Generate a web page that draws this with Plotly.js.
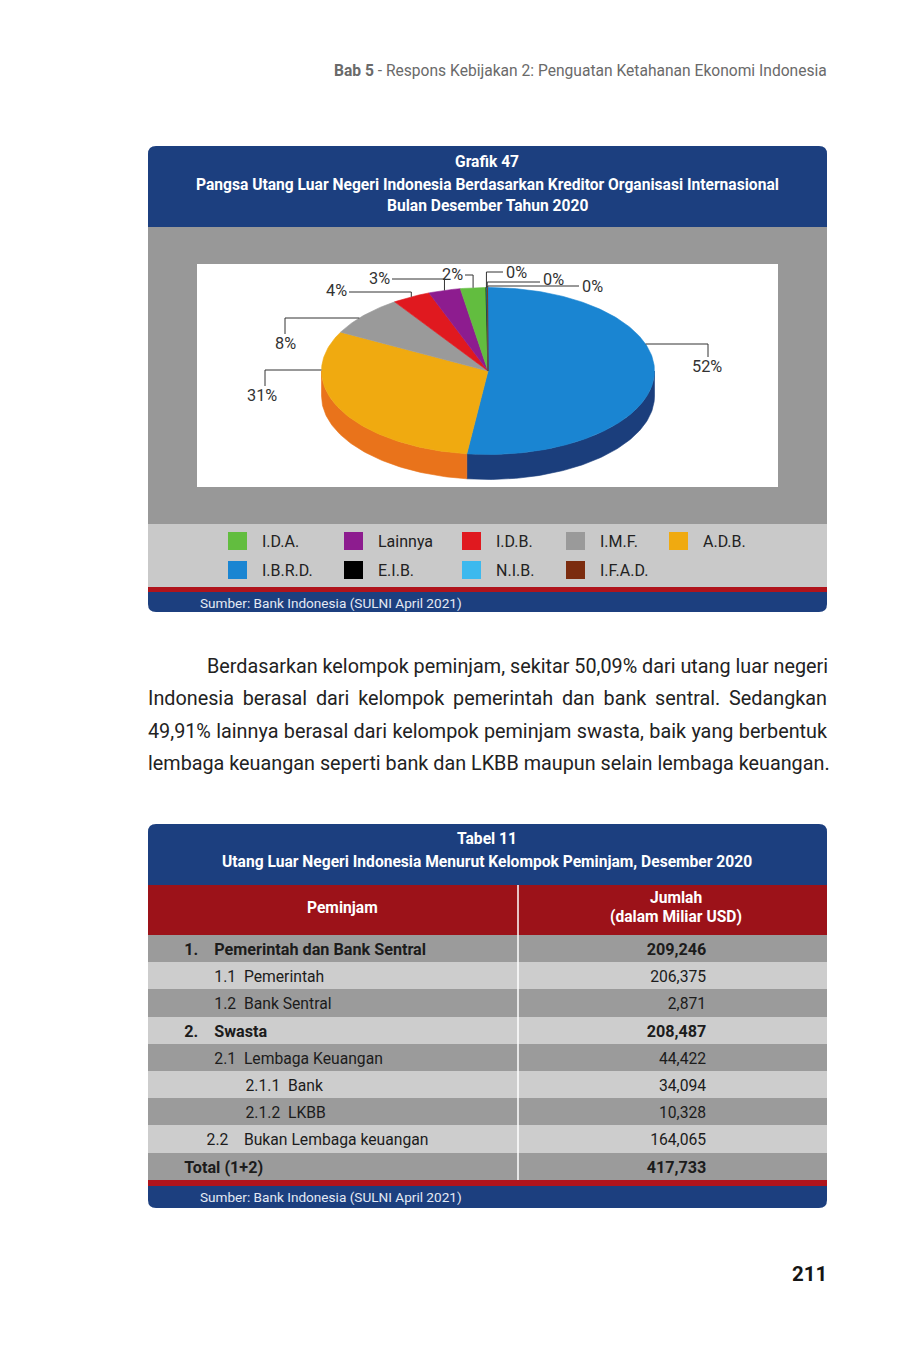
<!DOCTYPE html>
<html><head><meta charset="utf-8">
<script src="https://cdn.plot.ly/plotly-3.0.1.min.js"></script>
<style>
html,body{margin:0;padding:0;background:#fff;}
#page{position:relative;width:915px;height:1357px;overflow:hidden;font-family:Roboto,"Open Sans",sans-serif;}
#chart{position:absolute;left:0;top:0;width:915px;height:1357px;}
#para{position:absolute;left:148px;top:651px;width:679px;font-size:19.8px;color:#222;line-height:32.3px;}
#para div{text-align:justify;text-align-last:justify;white-space:nowrap;}
</style></head>
<body><div id="page"><div id="chart"></div>
<div id="para">
<div style="padding-left:59px">Berdasarkan kelompok peminjam, sekitar 50,09% dari utang luar negeri</div>
<div>Indonesia berasal dari kelompok pemerintah dan bank sentral. Sedangkan</div>
<div>49,91% lainnya berasal dari kelompok peminjam swasta, baik yang berbentuk</div>
<div>lembaga keuangan seperti bank dan LKBB maupun selain lembaga keuangan.</div>
</div></div>
<script>
// ---------- DATA ----------
const categories = ["I.D.A.","Lainnya","I.D.B.","I.M.F.","A.D.B.","I.B.R.D.","E.I.B.","N.I.B.","I.F.A.D."];
const shares     = [2.45, 3.1, 3.7, 7.8, 30.6, 51.9, 0.1, 0.05, 0.05];
const pieOrder   = ["I.B.R.D.","A.D.B.","I.M.F.","I.D.B.","Lainnya","I.D.A.","E.I.B.","N.I.B.","I.F.A.D."];

const tableHeader = ["Peminjam","Jumlah","(dalam Miliar USD)"];
const rowNums    = ["1.","1.1","1.2","2.","2.1","2.1.1","2.1.2","2.2","Total (1+2)"];
const rowNames   = ["Pemerintah dan Bank Sentral","Pemerintah","Bank Sentral","Swasta","Lembaga Keuangan","Bank","LKBB","Bukan Lembaga keuangan",""];
const amounts    = ["209,246","206,375","2,871","208,487","44,422","34,094","10,328","164,065","417,733"];
const boldRows   = [true,false,false,true,false,false,false,false,true];

// ---------- STYLE ----------
const FONT = 'Roboto, "Open Sans", sans-serif';
const topColors = {"I.D.A.":"#62bd3f","Lainnya":"#8d1c8f","I.D.B.":"#e0191f","I.M.F.":"#9a9a9a","A.D.B.":"#f0aa10",
  "I.B.R.D.":"#1a85d2","E.I.B.":"#000000","N.I.B.":"#3db9ee","I.F.A.D.":"#7b2c0f"};
const sideColors = {"I.D.A.":"#4a9a2e","Lainnya":"#6a136b","I.D.B.":"#a81217","I.M.F.":"#777777","A.D.B.":"#e9731b",
  "I.B.R.D.":"#1b3e7c","E.I.B.":"#000000","N.I.B.":"#2d8cb5","I.F.A.D.":"#5a200b"};
const BLUE = '#1c3f7f', RED = '#b0141c';

// pie geometry (page pixels)
const cx=488, cy=371, rx=166.5, ry=83.5, depth=25;
// label placement (layout only)
const labelLayout = {
  "I.B.R.D.":{mode:'h', ey:344, vx:708, lx:707, ly:366},
  "A.D.B.":  {mode:'h', ey:370, vx:265, lx:262, ly:395},
  "I.M.F.":  {mode:'h', ey:318, vx:285, lx:285, ly:343},
  "I.D.B.":  {mode:'v', ey:292, ex:349, lx:336, ly:290},
  "Lainnya": {mode:'v', ey:279, ex:392, lx:379, ly:278},
  "I.D.A.":  {mode:'v', ey:275, ex:465, lx:452, ly:274},
  "E.I.B.":  {mode:'v', ey:272, ex:503, lx:516, ly:272},
  "N.I.B.":  {mode:'v', ey:282, ex:540, lx:553, ly:279},
  "I.F.A.D.":{mode:'v', ey:286, ex:579, lx:592, ly:286}
};
const legendCols = [228,344,462,566,669], legendRows = [541,570];

// ---------- PIE ----------
const total = shares.reduce((a,b)=>a+b,0);
const val = c => shares[categories.indexOf(c)];
function P(a,dy){const r=a*Math.PI/180;return [cx+rx*Math.sin(r), cy-ry*Math.cos(r)+(dy||0)];}
function arc(a1,a2,dy){const n=Math.max(2,Math.ceil(a2-a1));const p=[];for(let k=0;k<=n;k++)p.push(P(a1+(a2-a1)*k/n,dy));return p;}
let acc=0;
const slices = pieOrder.map(c=>{const a1=acc/total*360;acc+=val(c);return {c,a1,a2:acc/total*360};});
const traces=[];
slices.forEach(s=>{
  const st=Math.max(s.a1,90), en=Math.min(s.a2,270);
  if(en>st){
    const pts=arc(st,en,0).concat(arc(st,en,depth).reverse());pts.push(pts[0]);
    traces.push({type:'scatter',mode:'lines',x:pts.map(p=>p[0]),y:pts.map(p=>p[1]),fill:'toself',
      fillcolor:sideColors[s.c],line:{color:sideColors[s.c],width:0.6},hoverinfo:'skip'});
  }
});
slices.forEach(s=>{
  const pts=[[cx,cy]].concat(arc(s.a1,s.a2,0));pts.push([cx,cy]);
  traces.push({type:'scatter',mode:'lines',x:pts.map(p=>p[0]),y:pts.map(p=>p[1]),fill:'toself',
    fillcolor:topColors[s.c],line:{color:topColors[s.c],width:0.6},hoverinfo:'skip'});
});
// leader lines + labels
const lx=[],ly=[],annotations=[];
slices.forEach(s=>{
  const L=labelLayout[s.c], mid=(s.a1+s.a2)/2;
  if(L.mode==='h'){
    const sgn=Math.sin(mid*Math.PI/180)>=0?1:-1;
    const t=(cy-L.ey)/ry; const ax=cx+sgn*rx*Math.sqrt(Math.max(0,1-t*t));
    lx.push(ax,L.vx,L.vx,null); ly.push(L.ey,L.ey,L.ly-9,null);
  } else {
    const p=P(mid,0);
    lx.push(p[0],p[0],L.ex,null); ly.push(p[1],L.ey,L.ey,null);
  }
  annotations.push({x:L.lx,y:L.ly,xref:'x',yref:'y',text:Math.round(val(s.c)/total*100)+'%',showarrow:false,
    xanchor:'center',yanchor:'middle',font:{family:FONT,size:16.3,color:'#333'}});
});
traces.push({type:'scatter',mode:'lines',x:lx,y:ly,line:{color:'#333',width:1},hoverinfo:'skip',connectgaps:false});

// ---------- SHAPES ----------
function rrect(x0,y0,x1,y1,r,top,bot){
  const rt=top?r:0, rb=bot?r:0;
  return `M${x0},${y0+rt} Q${x0},${y0} ${x0+rt},${y0} L${x1-rt},${y0} Q${x1},${y0} ${x1},${y0+rt} L${x1},${y1-rb} Q${x1},${y1} ${x1-rb},${y1} L${x0+rb},${y1} Q${x0},${y1} ${x0},${y1-rb} Z`;
}
const shapes=[
  {type:'path',path:rrect(148,146,827,612,8,true,true),fillcolor:BLUE,line:{width:0},layer:'below'},
  {type:'rect',x0:148,x1:827,y0:227,y1:524,fillcolor:'#989898',line:{width:0},layer:'below'},
  {type:'rect',x0:197,x1:778,y0:264,y1:487,fillcolor:'#ffffff',line:{width:0},layer:'below'},
  {type:'rect',x0:148,x1:827,y0:524,y1:587,fillcolor:'#c9c9c9',line:{width:0},layer:'below'},
  {type:'rect',x0:148,x1:827,y0:587,y1:592,fillcolor:RED,line:{width:0},layer:'below'},
  {type:'path',path:rrect(148,824,827,1208,8,true,true),fillcolor:BLUE,line:{width:0},layer:'below'},
  {type:'rect',x0:148,x1:827,y0:1180,y1:1186,fillcolor:RED,line:{width:0},layer:'below'},
  {type:'line',x0:518,x1:518,y0:885,y1:1180,line:{color:'#ffffff',width:1.5},layer:'above'}
];
// legend
categories.forEach((c,i)=>{
  const col=i%5,row=Math.floor(i/5);
  const x=legendCols[col], y=legendRows[row];
  shapes.push({type:'rect',x0:x,x1:x+19,y0:y-9,y1:y+9,fillcolor:topColors[c],line:{width:0},layer:'below'});
  annotations.push({x:x+32,y:y,xref:'x',yref:'y',text:c,showarrow:false,xanchor:'left',yanchor:'middle',
    font:{family:FONT,size:16,color:'#222'}});
});
// titles / texts
function txt(x,y,t,o){annotations.push(Object.assign({x,y,xref:'x',yref:'y',text:t,showarrow:false,xanchor:'center',yanchor:'middle',
  font:{family:FONT,size:15.6,color:'#fff',weight:700}},o||{}));}
txt(487,162,'Grafik 47');
txt(487,185,'Pangsa Utang Luar Negeri Indonesia Berdasarkan Kreditor Organisasi Internasional');
txt(487,206,'Bulan Desember Tahun 2020');
txt(198,603,'Sumber: Bank Indonesia (SULNI April 2021)',{xanchor:'left',font:{family:FONT,size:13.6,color:'#e4eaf4'}});
txt(487,839,'Tabel 11');
txt(487,862,'Utang Luar Negeri Indonesia Menurut Kelompok Peminjam, Desember 2020');
txt(198,1197,'Sumber: Bank Indonesia (SULNI April 2021)',{xanchor:'left',font:{family:FONT,size:13.6,color:'#e4eaf4'}});
txt(829,71,'<b>Bab 5</b> - Respons Kebijakan 2: Penguatan Ketahanan Ekonomi Indonesia',{xanchor:'right',font:{family:FONT,size:15.6,color:'#6a6a6a'}});
txt(829,1274,'<b>211</b>',{xanchor:'right',font:{family:FONT,size:20.5,color:'#151515'}});
// table header labels
txt(342,908,tableHeader[0],{font:{family:FONT,size:15.6,color:'#fff',weight:700}});
txt(676,898,tableHeader[1],{font:{family:FONT,size:15.6,color:'#fff',weight:700}});
txt(676,917,tableHeader[2],{font:{family:FONT,size:15.6,color:'#fff',weight:700}});

// ---------- TABLE ----------
const SZ_B=16.2, SZ_R=15.7;
const ctx=document.createElement('canvas').getContext('2d');
function tw(s,bold){ctx.font=(bold?'700 ':'400 ')+(bold?SZ_B:SZ_R)+'px Roboto';return ctx.measureText(s).width;}
function pad(px,bold){const w=tw('\u00a0',bold)||3.8;return '\u00a0'.repeat(Math.max(0,Math.round(px/w)));}
const CELL_X0 = 148+8;
const numX  = [186,215,215,186,215,245,245,206,186];
const nameX = [215,244,244,215,244,287,287,245,0];
const leftTexts = rowNums.map((n,i)=>{
  const b=boldRows[i];
  let s=pad(numX[i]-CELL_X0,b)+n;
  if(rowNames[i]) s+=pad(nameX[i]-numX[i]-tw(n,b),b)+rowNames[i];
  return s;
});
const rightTexts = amounts.map((a,i)=>a+pad(819-706,boldRows[i]));
const rowFill = rowNums.map((_,i)=>i%2===0?'#9b9b9b':'#cdcdcd');
const rowWeight = boldRows.map(b=>b?700:400);
const rowSize = boldRows.map(b=>b?SZ_B:SZ_R);
traces.push({type:'table',domain:{x:[148/915,827/915],y:[1-1182/1357,1-885/1357]},
  columnwidth:[370,309],
  header:{values:['',''],align:['center','center'],height:50,fill:{color:'#9c1219'},line:{width:0},
    font:{family:FONT,size:15,color:'#ffffff'}},
  cells:{values:[leftTexts,rightTexts],align:['left','right'],height:27.2,
    fill:{color:[rowFill,rowFill]},line:{width:0},
    font:{family:FONT,size:[rowSize,rowSize],color:'#1c1c1c',weight:[rowWeight,rowWeight]}}
});

Plotly.newPlot('chart',traces,{width:915,height:1357,margin:{l:0,r:0,t:0,b:0},paper_bgcolor:'rgba(0,0,0,0)',
  plot_bgcolor:'rgba(0,0,0,0)',showlegend:false,
  xaxis:{range:[0,915],visible:false,fixedrange:true},yaxis:{range:[1357,0],visible:false,fixedrange:true},
  shapes,annotations},{displayModeBar:false,staticPlot:true});
</script></body></html>
